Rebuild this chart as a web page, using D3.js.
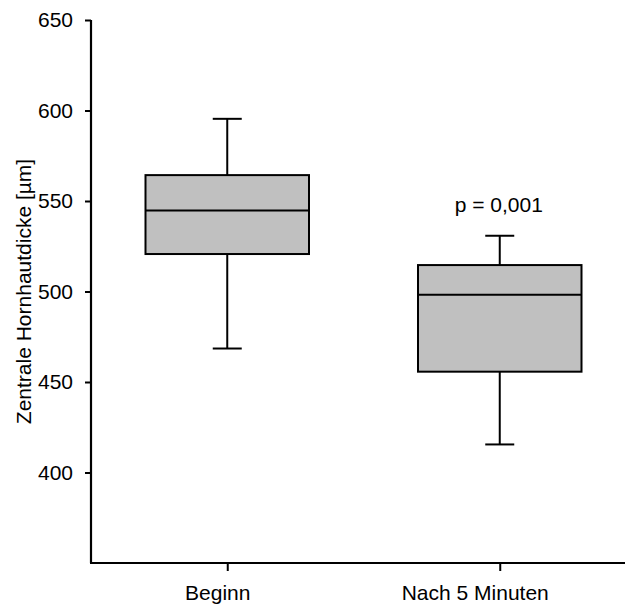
<!DOCTYPE html>
<html>
<head>
<meta charset="utf-8">
<script src="https://cdn.jsdelivr.net/npm/d3@7"></script>
<style>
  body { margin: 0; background: #fff; }
  svg text { font-family: "Liberation Sans", Arial, sans-serif; fill: #000; }
</style>
</head>
<body>
<div id="chart"></div>
<script>
// data
const groups = ["Beginn", "Nach 5 Minuten"];
const whiskerLow = [468.5, 415.5];
const q1 = [520.7, 455.7];
const median = [544.8, 498.2];
const q3 = [564.3, 514.6];
const whiskerHigh = [595.4, 530.8];
const yTicks = [400, 450, 500, 550, 600, 650];
const pLabel = "p = 0,001";

const width = 625, height = 605;
const margin = {top: 20, left: 91, bottom: 42};
const fontSize = "21px";
// the category labels sit a bit left of their ticks in the original
const labelShift = [-10, -25];

const svg = d3.select("#chart").append("svg")
    .attr("width", width)
    .attr("height", height);

const y = d3.scaleLinear()
    .domain([350, 650])
    .range([height - margin.bottom, margin.top]);

const x = d3.scalePoint()
    .domain(groups)
    .range([margin.left, 636])
    .padding(0.5);

const boxW = x.step() * 0.6;
const capW = 29;

// y axis
const yAxis = svg.append("g")
    .attr("transform", `translate(${margin.left},0)`)
    .call(d3.axisLeft(y).tickValues(yTicks).tickSize(6).tickPadding(12).tickSizeOuter(0));
yAxis.select(".domain").attr("stroke-width", 2.2).attr("d", `M0,${y(650)}V${y(350)}`);
yAxis.selectAll(".tick line").attr("stroke-width", 2);
yAxis.selectAll(".tick text").style("font-size", fontSize);

// x axis
const xAxis = svg.append("g")
    .attr("transform", `translate(0,${y(350)})`)
    .call(d3.axisBottom(x).tickSize(8).tickPadding(14).tickSizeOuter(0));
xAxis.select(".domain").attr("stroke-width", 2.2).attr("d", `M${margin.left - 1},0H${width}`);
xAxis.selectAll(".tick line").attr("stroke-width", 2);
xAxis.selectAll(".tick text")
    .style("font-size", fontSize)
    .attr("dx", (d, i) => labelShift[i]);

svg.append("text")
    .attr("transform", `translate(31,${(y(650) + y(350)) / 2}) rotate(-90)`)
    .attr("text-anchor", "middle")
    .style("font-size", fontSize)
    .text("Zentrale Hornhautdicke [µm]");

// boxes
const boxes = svg.selectAll(".box")
    .data(groups)
    .enter()
    .append("g")
    .attr("class", "box")
    .attr("transform", d => `translate(${x(d)},0)`);

boxes.append("line")
    .attr("x1", 0).attr("x2", 0)
    .attr("y1", (d, i) => y(whiskerHigh[i]))
    .attr("y2", (d, i) => y(q3[i]))
    .attr("stroke", "#000").attr("stroke-width", 2);

boxes.append("line")
    .attr("x1", 0).attr("x2", 0)
    .attr("y1", (d, i) => y(q1[i]))
    .attr("y2", (d, i) => y(whiskerLow[i]))
    .attr("stroke", "#000").attr("stroke-width", 2);

boxes.append("line")
    .attr("x1", -capW / 2).attr("x2", capW / 2)
    .attr("y1", (d, i) => y(whiskerHigh[i]))
    .attr("y2", (d, i) => y(whiskerHigh[i]))
    .attr("stroke", "#000").attr("stroke-width", 2);

boxes.append("line")
    .attr("x1", -capW / 2).attr("x2", capW / 2)
    .attr("y1", (d, i) => y(whiskerLow[i]))
    .attr("y2", (d, i) => y(whiskerLow[i]))
    .attr("stroke", "#000").attr("stroke-width", 2);

boxes.append("rect")
    .attr("x", -boxW / 2)
    .attr("width", boxW)
    .attr("y", (d, i) => y(q3[i]))
    .attr("height", (d, i) => y(q1[i]) - y(q3[i]))
    .attr("fill", "#c0c0c0")
    .attr("stroke", "#000").attr("stroke-width", 2);

boxes.append("line")
    .attr("x1", -boxW / 2).attr("x2", boxW / 2)
    .attr("y1", (d, i) => y(median[i]))
    .attr("y2", (d, i) => y(median[i]))
    .attr("stroke", "#000").attr("stroke-width", 2);

svg.append("text")
    .attr("x", x(groups[1]) - 1)
    .attr("y", y(whiskerHigh[1]) - 24)
    .attr("text-anchor", "middle")
    .style("font-size", fontSize)
    .text(pLabel);
</script>
</body>
</html>
